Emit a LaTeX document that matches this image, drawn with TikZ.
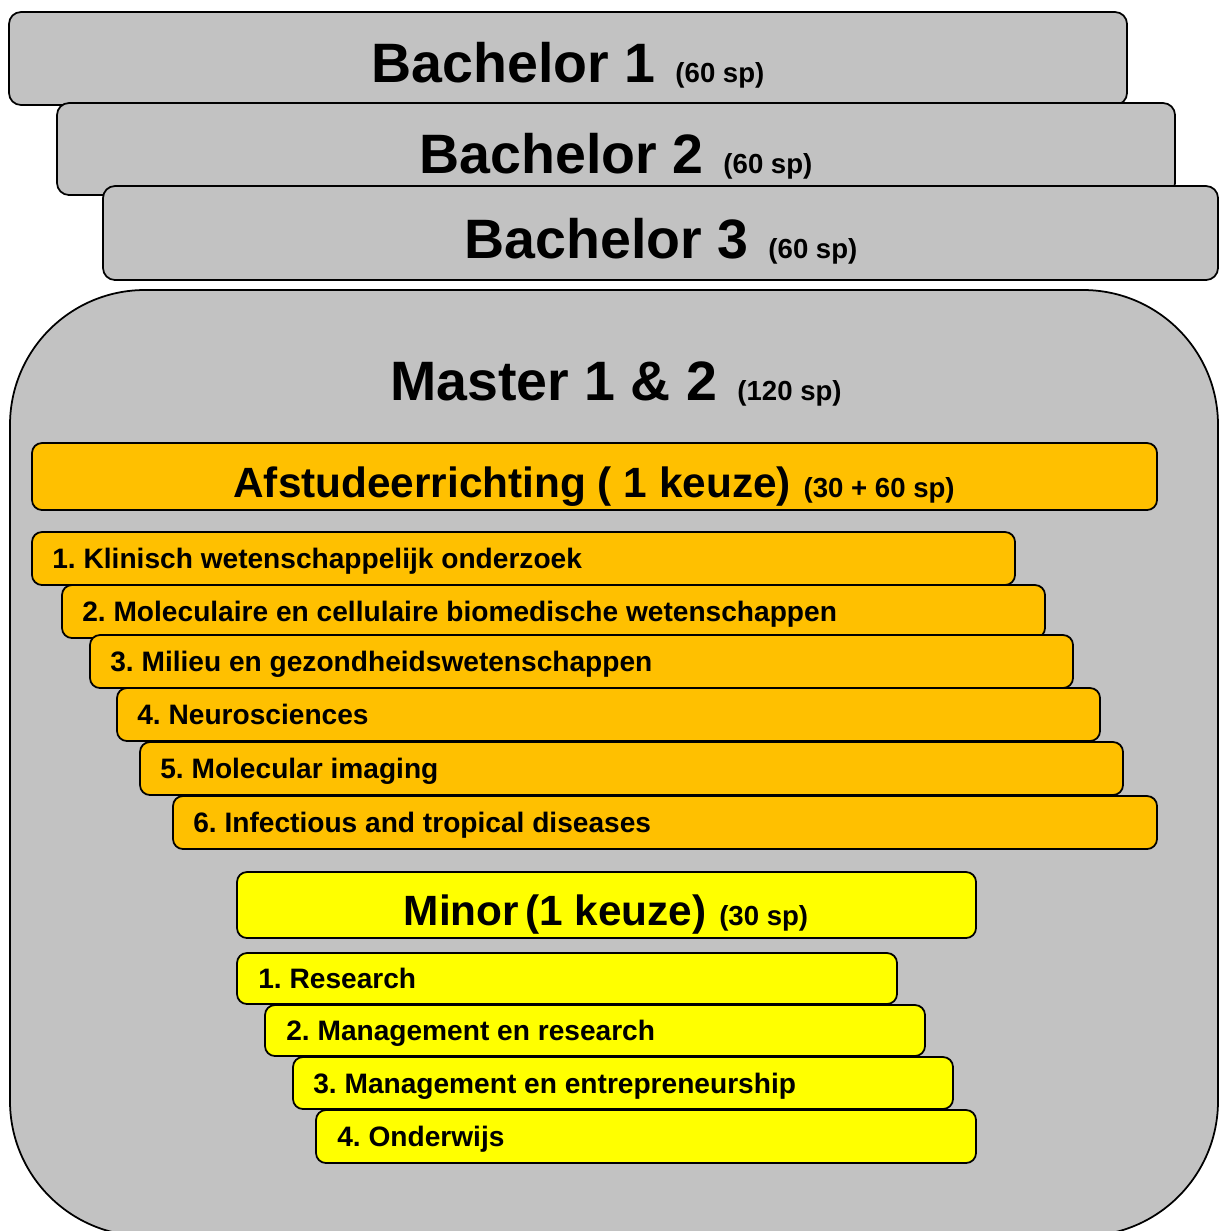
\documentclass[tikz,border=0pt]{standalone}
\usepackage{fontspec}
\setmainfont{Liberation Sans}
\usetikzlibrary{fit}
\frenchspacing
\definecolor{boxgray}{RGB}{194,194,194}
\definecolor{orangebox}{RGB}{255,192,0}
\definecolor{yellowbox}{RGB}{255,255,0}
\newcommand{\bigtxt}{\fontsize{31.6}{36}\selectfont\bfseries}
\newcommand{\midtxt}{\fontsize{24.1}{28}\selectfont\bfseries}
\newcommand{\smalltxt}{\fontsize{15.7}{18}\selectfont\bfseries}
\newcommand{\itemtxt}{\fontsize{16}{19}\selectfont\bfseries}
\begin{document}
\begin{tikzpicture}[x=0.02cm,y=-0.02cm,
  graybox/.style={draw=black,line width=1pt,fill=boxgray,rounded corners=0.24cm,inner sep=0pt},
  orangeb/.style={draw=black,line width=1pt,fill=orangebox,rounded corners=0.2cm,inner sep=0pt},
  yellowb/.style={draw=black,line width=1pt,fill=yellowbox,rounded corners=0.2cm,inner sep=0pt},
  head/.style={anchor=base,inner sep=0pt,text=black},
  itemlabel/.style={anchor=base west,inner sep=0pt,text=black,font=\itemtxt}]
\useasboundingbox (0,0) rectangle (1219,1231);
\clip (0,0) rectangle (1219,1231);
% Bachelor boxes
\node[graybox,fit={(9,12)(1127,105)}] (b1) {};
\node[head] (tb1) at (568,82) {\bigtxt Bachelor 1\hspace{0.36em}\smalltxt(60 sp)};
\node[graybox,fit={(57,103)(1175,195)}] (b2) {};
\node[head] (tb2) at (616,173) {\bigtxt Bachelor 2\hspace{0.36em}\smalltxt(60 sp)};
\node[graybox,fit={(103,186)(1218,280)}] (b3) {};
\node[head] (tb3) at (661,258) {\bigtxt Bachelor 3\hspace{0.36em}\smalltxt(60 sp)};
% Master
\node[draw=black,line width=1pt,fill=boxgray,rounded corners=2.7cm,inner sep=0pt,fit={(10,290)(1218,1236)}] (master) {};
\node[head] (tm) at (616,400) {\bigtxt Master 1 \& 2\hspace{0.36em}\smalltxt(120 sp)};
% Afstudeerrichting
\node[orangeb,fit={(32,443)(1157,510)}] (afs) {};
\node[head] (tafs) at (594,497) {\midtxt Afstudeerrichting ( 1 keuze)\hspace{0.3em}\smalltxt(30 + 60 sp)};
\node[orangeb,fit={(32,532)(1015,585)}] (o1) {};
\node[itemlabel] (to1) at (52,568) {1. Klinisch wetenschappelijk onderzoek};
\node[orangeb,fit={(62,585)(1045,638)}] (o2) {};
\node[itemlabel] (to2) at (82,621) {2. Moleculaire en cellulaire biomedische wetenschappen};
\node[orangeb,fit={(90,635)(1073,688)}] (o3) {};
\node[itemlabel] (to3) at (110,671) {3. Milieu en gezondheidswetenschappen};
\node[orangeb,fit={(117,688)(1100,741)}] (o4) {};
\node[itemlabel] (to4) at (137,724) {4. Neurosciences};
\node[orangeb,fit={(140,742)(1123,795)}] (o5) {};
\node[itemlabel] (to5) at (160,778) {5. Molecular imaging};
\node[orangeb,fit={(173,796)(1157,849)}] (o6) {};
\node[itemlabel] (to6) at (193,832) {6. Infectious and tropical diseases};
% Minor
\node[yellowb,fit={(237,872)(976,938)}] (minor) {};
\node[head] (tminor) at (606,925) {\midtxt Minor\hspace{0.15em}(1 keuze)\hspace{0.3em}\smalltxt(30 sp)};
\node[yellowb,fit={(237,953)(897,1004)}] (y1) {};
\node[itemlabel] (ty1) at (258,988) {1. Research};
\node[yellowb,fit={(265,1005)(925,1056)}] (y2) {};
\node[itemlabel] (ty2) at (286,1040) {2. Management en research};
\node[yellowb,fit={(293,1057)(953,1109)}] (y3) {};
\node[itemlabel] (ty3) at (313,1093) {3. Management en entrepreneurship};
\node[yellowb,fit={(316,1110)(976,1163)}] (y4) {};
\node[itemlabel] (ty4) at (337,1146) {4. Onderwijs};
\end{tikzpicture}
\end{document}
